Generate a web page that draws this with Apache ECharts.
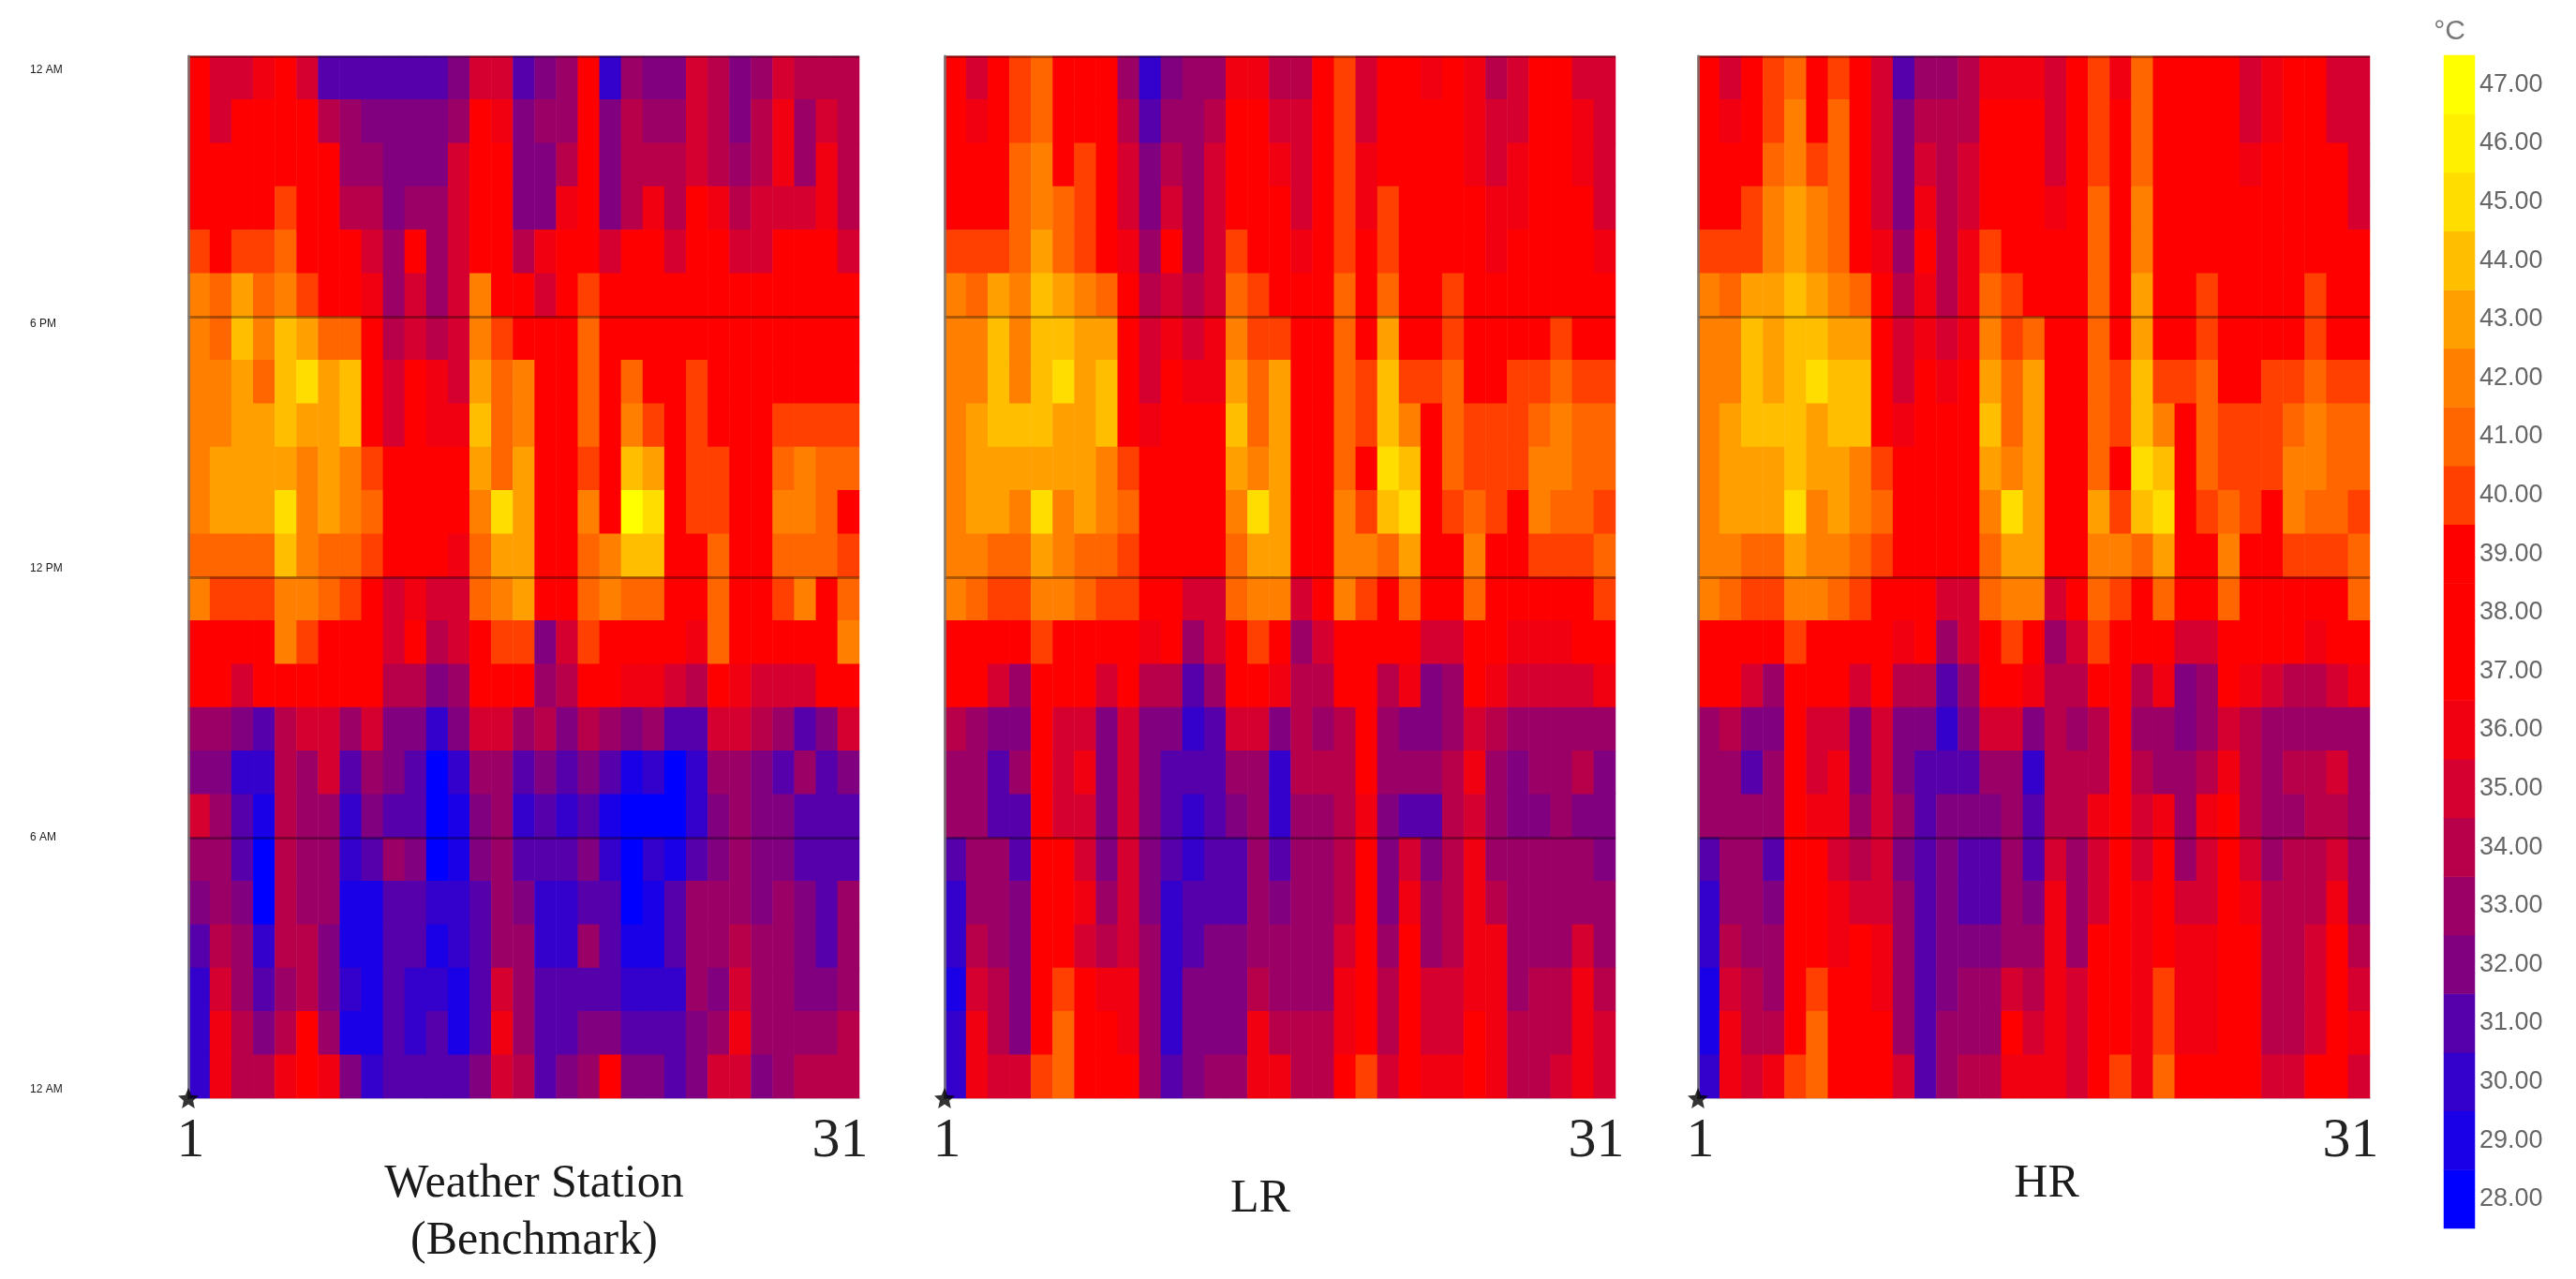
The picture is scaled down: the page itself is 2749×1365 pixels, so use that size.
<!DOCTYPE html>
<html><head><meta charset="utf-8">
<style>html,body{margin:0;padding:0;background:#fff}#c{width:2749px;height:1365px}</style>
<script src="https://cdn.jsdelivr.net/npm/echarts@6/dist/echarts.min.js"></script>
</head><body><div id="c"></div>
<script>
const days = Array.from({length:31},(_, i)=>String(i+1));
const hours = Array.from({length:24},(_, i)=>String(i));
const timeTicks = ['12 AM','6 AM','12 PM','6 PM','12 AM'];
const legendLows = [28,29,30,31,32,33,34,35,36,37,38,39,40,41,42,43,44,45,46,47];
const legendColors = ['#0000ff','#1a00e6','#3300cc','#5500aa','#800080','#9b0066','#b8004a','#d60030','#f00010','#ff0000','#ff0000','#ff0000','#ff4000','#ff6600','#ff8000','#ffa000','#ffbf00','#ffdd00','#fff000','#ffff00'];
// rows are listed from the top of the panel (end of day) to the bottom (start of day)
const weatherStation = [
[38,35,35,36,38,35,31,31,31,31,31,31,32,35,35,31,32,33,38,30,33,32,32,35,34,32,33,35,34,34,34],
[38,35,38,38,38,38,34,33,32,32,32,32,33,38,36,32,33,33,38,32,34,33,33,35,34,32,34,36,33,35,34],
[38,38,38,38,38,37,37,33,33,32,32,32,35,38,38,32,32,34,38,32,34,34,34,35,34,33,34,36,33,36,34],
[38,38,38,38,40,38,38,34,34,32,33,33,35,38,38,32,32,36,38,32,34,36,34,38,36,34,35,35,35,36,34],
[40,38,40,40,41,38,38,37,35,33,38,33,35,38,38,34,36,38,38,35,37,37,35,38,38,35,35,37,37,37,35],
[42,41,43,41,42,40,38,38,36,33,35,33,35,42,38,38,35,38,40,38,38,38,38,38,38,38,38,38,38,38,38],
[42,41,44,42,44,43,41,41,38,34,35,34,35,42,40,38,38,38,41,38,38,38,38,38,38,38,38,38,38,38,38],
[42,42,43,41,44,45,43,44,38,35,38,36,35,43,41,42,38,38,41,38,41,38,38,40,38,38,38,38,38,38,38],
[42,42,43,43,44,43,43,44,38,35,38,36,36,44,41,42,38,38,41,38,42,40,38,40,38,38,38,40,40,40,40],
[42,43,43,43,43,42,43,42,40,38,38,38,38,43,41,43,38,38,40,38,44,43,38,40,40,38,38,41,42,41,41],
[42,43,43,43,45,42,43,42,41,38,38,38,38,42,45,43,38,38,42,38,47,45,38,40,40,38,38,42,42,41,38],
[41,41,41,41,44,42,41,41,40,38,38,38,36,41,43,43,38,38,41,42,44,44,38,38,41,38,38,41,41,41,40],
[42,40,40,40,42,42,41,40,38,35,36,35,35,41,42,43,38,38,41,42,41,41,38,38,41,38,38,40,42,38,41],
[38,38,38,38,42,40,38,38,38,35,38,34,35,38,40,40,32,35,40,38,38,38,38,36,41,38,38,38,38,38,42],
[38,38,35,38,38,38,38,38,38,34,34,32,33,38,38,38,33,34,38,38,36,36,35,34,38,36,35,35,35,38,38],
[33,33,32,31,34,35,35,33,35,32,32,30,32,35,35,33,34,32,34,33,32,33,31,31,35,35,34,33,31,32,35],
[32,32,30,30,34,33,35,31,33,32,31,28,30,33,33,31,32,31,32,31,29,30,28,30,33,33,32,31,33,31,32],
[35,33,31,29,34,33,33,30,32,31,31,28,29,32,33,30,31,30,31,29,28,28,28,30,32,33,32,32,31,31,31],
[33,33,31,28,34,33,33,30,31,33,32,28,29,32,33,31,31,31,32,30,28,30,29,31,32,33,32,32,31,31,31],
[32,33,32,28,34,33,33,29,29,31,31,30,30,31,33,32,30,30,31,31,28,29,31,33,33,33,32,33,32,31,33],
[31,34,33,30,34,34,32,29,29,31,31,29,30,31,33,33,30,30,33,31,29,29,31,33,33,34,33,33,32,31,33],
[30,35,33,31,33,34,32,30,29,31,30,30,29,31,35,33,31,31,31,31,30,30,30,33,32,35,33,33,32,32,33],
[30,36,34,32,34,38,33,29,29,31,30,31,29,31,36,33,31,31,32,32,31,31,31,32,33,36,33,33,33,33,34],
[30,36,34,34,36,38,36,32,30,31,31,31,31,32,35,34,31,32,33,38,32,32,31,32,35,35,32,33,34,34,34]
];
const lrModel = [
[38,35,38,40,41,38,38,38,33,30,32,33,33,36,36,34,34,38,40,35,38,37,36,38,36,34,35,38,38,35,35],
[38,36,38,40,41,38,38,38,34,31,33,33,34,38,38,35,35,38,40,35,37,37,37,38,36,35,35,38,38,36,35],
[38,38,38,41,42,38,40,38,35,32,34,33,35,38,38,36,35,38,40,36,38,38,38,38,36,35,36,38,38,36,35],
[38,38,38,41,42,41,40,38,35,32,35,33,35,38,38,37,35,38,40,36,40,38,38,38,38,36,36,38,38,38,35],
[40,40,40,41,43,41,40,38,36,33,38,33,35,40,38,38,36,38,40,38,40,38,38,38,38,36,38,38,38,38,36],
[42,41,43,42,44,43,42,41,37,34,35,34,35,41,40,38,38,38,41,38,41,38,38,40,38,38,38,38,38,38,38],
[42,42,44,42,44,44,43,43,38,35,36,35,36,42,40,40,38,38,41,38,43,38,38,40,38,38,38,38,40,38,38],
[42,42,44,42,44,45,43,44,38,35,38,36,36,43,41,43,38,38,41,40,44,40,40,41,38,38,40,40,41,40,40],
[42,43,44,44,44,43,43,44,38,36,38,37,37,44,41,43,38,38,41,40,44,42,38,41,40,40,40,41,42,41,41],
[42,43,43,43,43,43,43,42,40,38,38,38,38,43,42,43,38,38,41,38,45,44,38,41,40,40,40,42,42,41,41],
[42,43,43,42,45,42,43,42,41,38,38,38,38,42,45,43,38,38,42,40,44,45,38,40,41,40,38,42,41,41,40],
[42,42,41,41,43,42,41,41,40,38,38,38,37,41,43,43,38,38,42,42,41,43,38,38,42,38,38,40,40,40,41],
[42,41,40,40,42,42,41,40,40,37,38,35,35,41,42,42,35,38,42,40,38,41,38,38,41,38,38,38,38,38,40],
[38,38,38,38,40,38,38,38,38,36,37,33,35,38,40,38,33,35,38,38,38,37,35,35,38,38,36,36,36,37,38],
[38,37,35,33,38,38,38,35,38,34,34,31,33,38,38,36,34,34,38,38,34,36,32,33,38,36,35,35,35,35,36],
[34,33,32,32,38,35,35,32,35,32,32,30,31,35,35,32,34,33,34,38,33,32,32,33,35,34,33,33,33,33,33],
[33,33,31,33,38,35,36,32,35,32,31,31,31,33,33,30,34,34,34,38,33,33,33,34,36,33,32,33,33,34,32],
[33,33,31,31,38,35,35,32,35,32,31,30,31,32,33,30,33,33,34,36,32,31,31,34,35,33,32,32,33,32,32],
[31,33,33,31,38,38,35,32,35,32,31,30,31,31,33,31,33,33,34,38,32,35,32,34,36,33,33,33,33,33,32],
[30,33,33,32,38,38,36,33,35,32,30,31,31,31,33,32,33,33,34,38,32,36,33,34,36,34,33,33,33,33,33],
[30,34,33,32,38,38,35,34,35,33,30,31,32,32,33,33,33,33,35,38,33,38,33,34,36,36,33,33,33,35,33],
[29,35,34,32,38,40,38,36,36,33,30,32,32,32,34,33,33,33,36,38,34,38,35,35,36,36,33,34,34,36,34],
[30,36,34,32,38,41,38,38,36,33,30,32,32,32,36,34,34,34,36,38,34,38,35,35,38,36,34,34,34,36,35],
[30,36,35,35,40,41,38,38,38,33,31,32,33,33,36,36,34,34,38,40,35,38,36,36,38,36,34,34,35,36,35]
];
const hrModel = [
[38,35,38,40,41,38,40,38,35,31,33,33,34,36,36,36,35,38,40,36,41,38,37,37,37,35,36,38,38,35,35],
[38,36,38,40,42,38,41,38,35,32,34,34,34,38,38,37,35,38,40,37,41,38,38,38,38,35,36,38,38,35,35],
[38,38,38,41,42,40,41,38,35,32,35,34,35,38,38,38,35,38,40,37,41,38,38,38,38,36,37,38,38,38,35],
[38,38,40,42,43,42,41,38,35,32,36,34,35,38,38,38,36,38,41,38,42,38,38,38,38,37,37,38,38,38,35],
[40,40,40,42,43,42,41,38,36,33,38,34,36,40,38,38,37,38,41,38,42,38,38,38,38,38,38,38,38,38,37],
[42,41,43,43,44,43,42,41,38,34,36,34,36,41,40,38,38,38,41,38,43,38,38,40,38,38,38,38,40,38,38],
[42,42,44,43,44,44,43,43,38,35,36,35,36,42,40,41,38,38,41,38,43,38,38,40,38,38,38,38,40,38,38],
[42,42,44,43,44,45,44,44,38,35,38,36,38,43,41,43,38,38,41,40,44,40,40,41,38,38,40,40,41,40,40],
[42,43,44,44,44,43,44,44,38,36,38,38,38,44,41,43,38,38,41,40,44,42,38,41,40,40,40,41,42,41,41],
[42,43,43,43,44,43,43,42,40,38,38,38,38,43,42,43,38,38,41,38,45,44,38,41,40,40,40,42,42,41,41],
[42,43,43,43,45,42,43,42,41,38,38,38,38,42,45,43,38,38,43,40,44,45,38,40,41,40,38,42,41,41,40],
[42,42,41,41,43,42,42,41,40,38,38,38,37,41,43,43,38,38,42,42,41,43,38,38,42,38,38,40,40,40,41],
[42,41,40,40,42,42,41,40,38,37,38,35,35,41,42,42,35,38,41,40,38,41,38,38,41,38,38,38,38,38,41],
[38,38,38,38,40,38,38,38,38,36,37,33,35,38,40,38,33,35,40,38,38,37,35,35,38,38,37,37,36,37,38],
[38,37,35,33,38,38,38,35,38,34,34,31,33,38,38,36,34,34,38,38,34,36,32,33,38,36,35,34,34,35,36],
[33,34,32,32,38,35,35,32,35,32,32,30,32,35,35,32,34,33,34,38,33,33,32,33,35,34,33,33,33,33,33],
[33,33,31,33,38,35,36,32,35,32,31,31,31,33,33,30,34,34,34,38,34,33,33,34,36,34,33,34,34,35,33],
[33,33,33,33,38,36,36,33,35,33,31,32,32,32,33,31,34,34,36,38,35,36,33,36,38,34,33,33,34,34,33],
[31,33,33,31,38,38,35,34,35,32,31,32,31,31,33,31,35,33,35,38,35,38,33,35,38,35,33,34,34,35,33],
[30,33,33,32,38,38,36,35,35,33,31,32,31,31,33,32,36,33,35,38,36,38,35,35,38,36,34,34,34,36,33],
[30,34,33,33,38,38,36,38,36,33,31,32,32,32,33,33,36,33,38,38,36,38,36,36,38,37,34,34,35,38,34],
[29,35,34,33,38,40,38,38,36,33,31,32,33,33,35,34,36,35,38,38,36,40,36,36,38,38,34,34,35,38,35],
[29,36,34,34,38,41,38,38,37,33,31,33,33,33,37,35,36,35,38,38,36,40,36,36,38,38,34,34,35,38,36],
[30,36,35,36,40,41,38,38,38,35,31,33,34,34,36,36,36,35,38,40,36,41,38,37,38,38,35,35,38,38,35]
];

const panels = [
  {name:'Weather Station\n(Benchmark)', rows:weatherStation, left:201, width:716, tx:565, ty:1228},
  {name:'LR', rows:lrModel, left:1008, width:716, tx:1340, ty:1244},
  {name:'HR', rows:hrModel, left:1812, width:717, tx:2179, ty:1228}
];
const serif = '"Liberation Serif","Times New Roman",serif';
const tickStyles = [
  {padding:[0,0,18,0]},{padding:[0,0,0,0]},{padding:[0,0,18,0]},{padding:[16,0,0,0]},{padding:[30,0,0,0]}
];
const rich = {};
tickStyles.forEach((s,i)=>{rich['t'+i]=Object.assign({font:'50px '+serif,color:'#1a1a1a'},s);});

const grid=[],xAxis=[],yAxis=[],series=[],title=[];
panels.forEach((p,i)=>{
  grid.push({left:p.left,width:p.width,top:60,height:1112,show:false});
  xAxis.push({type:'category',gridIndex:i,data:days,position:'bottom',
    axisLine:{show:true,lineStyle:{color:'rgba(150,160,160,0.5)',width:2}},axisTick:{show:false},splitLine:{show:false},
    axisLabel:{interval:(idx)=>idx===0||idx===30,margin:16,padding:[0,18,0,0],hideOverlap:false,color:'#222',fontFamily:serif,fontSize:60}});
  xAxis.push({type:'value',gridIndex:i,min:0,max:31,show:false});
  yAxis.push({type:'category',gridIndex:i,data:hours,position:'right',
    axisLine:{show:true,lineStyle:{color:'rgba(120,120,120,0.55)',width:3}},axisTick:{show:false},axisLabel:{show:false},splitLine:{show:false},z:6});
  yAxis.push({type:'value',gridIndex:i,min:0,max:24,interval:6,position:'left',z:6,
    axisLine:{show:true,onZero:false,lineStyle:{color:'rgba(120,120,120,0.55)',width:3}},axisTick:{show:false},
    splitLine:{show:true,showMinLine:false,lineStyle:{color:'rgba(0,0,0,0.32)',width:3}},
    axisLabel:{show:i===0,align:'left',margin:169,showMinLabel:true,showMaxLabel:true,
      formatter:(v)=>{const k=v/6;return '{t'+k+'|'+timeTicks[k]+'}';},rich}});
  const data=[];
  p.rows.forEach((row,r)=>row.forEach((v,c)=>data.push([c,p.rows.length-1-r,v])));
  series.push({type:'heatmap',name:p.name,xAxisIndex:i*2,yAxisIndex:i*2,data,progressive:0,animation:false,z:2,itemStyle:{borderWidth:0}});
  series.push({type:'scatter',xAxisIndex:i*2+1,yAxisIndex:i*2+1,data:[[0,0]],clip:false,silent:true,z:8,animation:false,
    symbol:'path://M10,0 L12.9,6.9 L20,7.6 L14.6,12.2 L16.2,19.5 L10,15.6 L3.8,19.5 L5.4,12.2 L0,7.6 L7.1,6.9 Z',symbolSize:22,itemStyle:{color:'#000'}});
  title.push({text:p.name,left:p.tx,top:p.ty,textAlign:'center',
    textStyle:{fontFamily:serif,fontSize:50,fontWeight:'normal',color:'#1a1a1a',lineHeight:61}});
});
// colour bar
grid.push({left:2608,width:33,top:59,height:1252,show:false});
xAxis.push({type:'category',gridIndex:3,data:['c'],show:false});
yAxis.push({type:'category',gridIndex:3,data:legendLows.map(String),position:'right',
  axisLine:{show:false},axisTick:{show:false},splitLine:{show:false},
  axisLabel:{interval:0,margin:5,padding:[40,0,0,0],color:'#666',fontFamily:'"Liberation Sans",Arial,sans-serif',fontSize:27,
    showMinLabel:true,showMaxLabel:true,formatter:(v)=>Number(v).toFixed(2)}});
series.push({type:'heatmap',xAxisIndex:6,yAxisIndex:6,data:legendLows.map((v,i)=>[0,i,v]),progressive:0,animation:false});
title.push({text:'°C',left:2609,top:14,textAlign:'center',
  textStyle:{fontFamily:'"Liberation Sans",Arial,sans-serif',fontSize:30,fontWeight:'normal',color:'#777'}});

const chart=echarts.init(document.getElementById('c'),null,{renderer:'canvas'});
chart.setOption({animation:false,backgroundColor:'#fff',title,grid,xAxis,yAxis,series,
  visualMap:{type:'piecewise',show:false,seriesIndex:[0,2,4,6],dimension:2,
    pieces:legendLows.map((v,i)=>({gte:v,lt:v+1,color:legendColors[i]}))}
});
</script></body></html>
